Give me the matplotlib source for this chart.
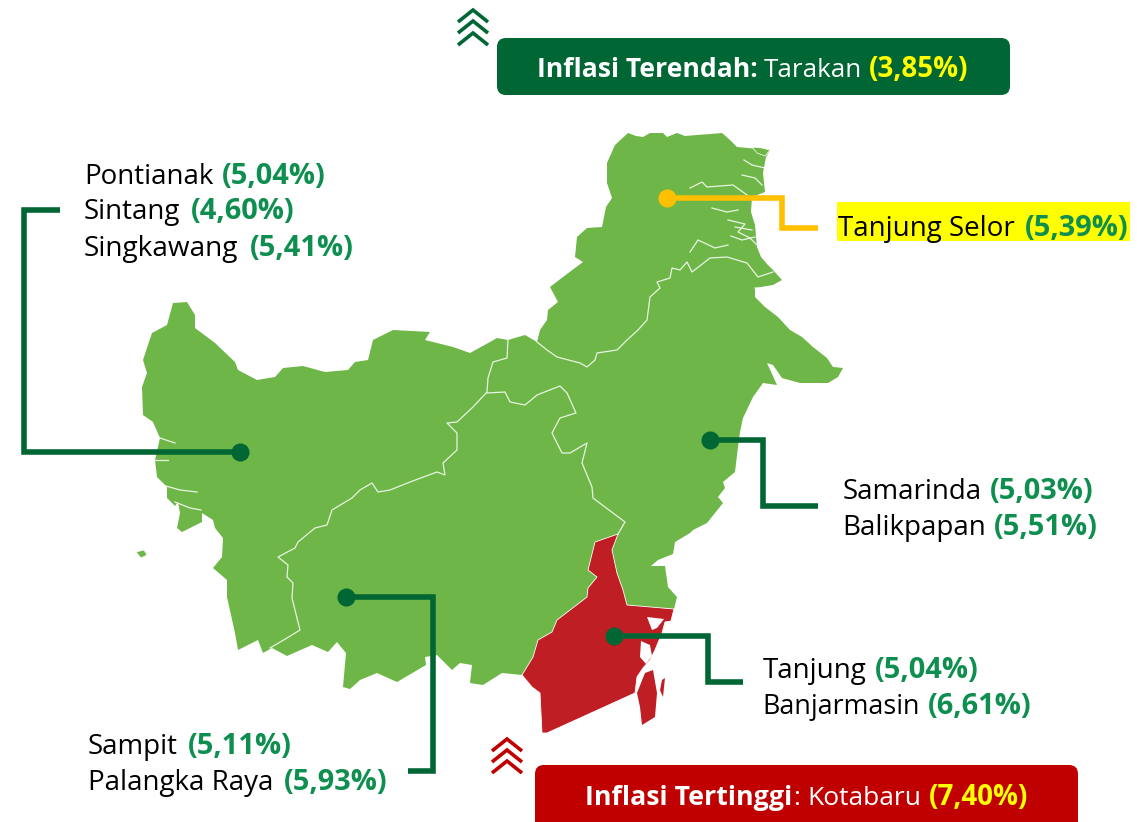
import matplotlib
matplotlib.use("Agg")
import matplotlib.pyplot as plt
from matplotlib.patches import Polygon, FancyBboxPatch, Rectangle

plt.rcParams['font.family'] = ['Open Sans', 'DejaVu Sans']

HIJAU = "#6DB647"
HIJAU_TUA = "#006633"
MERAH = "#BE1E24"
MERAH_KOTAK = "#C00000"
TEKS_HIJAU = "#0E8F4F"
KUNING = "#FFC000"

# garis pantai pulau (koordinat piksel gambar)
pantai = [(628,133),(636,136),(643,137),(650,133),(663,133),(667,137),(677,133),(685,136),(697,135),
          (710,134),(722,133),(730,140),(737,147),(748,148),(770,150),(766,157),(763,173),(765,192),
          (752,197),(751,212),(755,225),(757,247),(761,257),(767,264),(773,270),(782,280),(773,285),
          (755,288),(755,297),(765,307),(778,317),(790,330),(802,337),(813,347),(827,358),(833,367),
          (843,368),(838,377),(828,383),(800,383),(782,378),(773,365),(767,363),(777,385),(763,383),
          (753,397),(743,418),(740,432),(738,447),(735,472),(723,482),(725,488),(718,497),(723,503),
          (707,523),(693,530),(690,533),(675,542),(673,554),(658,560),(651,566),(665,566),
          (668,587),(677,597),(674,609),(622,606),(590,600),(522,675),(502,673),(483,685),
          (470,683),(472,665),(460,663),(452,670),(437,655),(425,657),(426,665),(397,682),
          (377,673),(360,680),(350,689),(343,687),(346,653),(337,642),(328,652),(312,645),
          (287,656),(272,648),(263,653),(258,640),(238,650),(235,633),(227,597),(227,580),
          (213,568),(222,557),(223,538),(215,528),(213,520),(202,513),(202,522),(182,532),
          (177,528),(180,513),(178,502),(175,506),(167,498),(167,487),(157,477),(155,460),
          (160,438),(153,422),(143,415),(142,387),(147,373),(143,360),(152,333),(167,325),
          (173,303),(187,302),(195,315),(195,328),(215,343),(235,362),(238,370),(257,380),
          (275,377),(283,368),(303,366),(325,372),(348,370),(355,362),(368,360),(373,340),
          (393,330),(430,332),(425,340),(453,347),(470,353),(490,342),(497,338),(508,340),
          (525,335),(537,342),(540,330),(547,320),(548,310),(558,302),(550,287),(563,277),
          (583,262),(575,257),(577,237),(587,228),(602,227),(606,207),(612,198),(607,183),
          (607,163),(615,145)]
pulau_kecil = [[(136,552),(144,550),(147,555),(141,558)],
               [(752,147),(762,148),(770,150),(765,156),(757,153)]]

# Kalimantan Selatan
kalsel = [(618,534),(595,542),(588,570),(597,577),(588,588),(587,597),(557,620),(552,632),
          (538,640),(533,657),(522,675),(532,687),(540,693),(542,733),(547,733),(635,693),
          (637,677),(643,668),(650,660),(655,650),(662,633),(665,622),(671,621),(674,609),
          (627,605),(623,590),(617,573),(612,550)]
kalsel_pulau = [[(653,670),(657,693),(655,717),(642,725),(640,707),(637,693),(645,673)],
                [(665,678),(663,697),(660,690),(662,680)]]
kalsel_celah = [[(647,617),(664,619),(657,628),(652,630)],
                [(641,641),(650,645),(652,656),(646,664),(640,657)]]

# batas provinsi dan sungai (garis putih)
batas = [[(537,342),(547,350),(557,357),(580,363),(587,367),(595,360),(597,353),(617,350),
          (627,340),(638,330),(647,320),(650,297),(660,288),(657,282),(670,278),(672,268),
          (680,270),(687,262),(692,272),(710,258),(727,257),(747,263),(758,277),(773,272)],
         [(508,340),(507,358),(493,362),(488,378),(487,392),(473,407),(457,422),(447,423),
          (457,433),(457,450),(443,463),(445,475),(437,472),(410,482),(390,490),(378,492),
          (372,483),(360,490),(352,498),(332,510),(327,525),(315,528),(298,542),(295,548),
          (278,557),(288,565),(287,577),(293,583),(292,598),(300,630),(287,638),(270,648)],
         [(487,393),(505,392),(510,402),(525,405),(537,395),(560,386),(567,393),(576,413),
          (560,418),(552,433),(562,453),(570,453),(587,443),(582,463),(592,487),(593,498),
          (625,522),(618,534)],
         [(690,252),(698,240),(715,248),(728,245)],
         [(690,188),(702,182),(707,187),(733,185),(747,195)],
         [(712,208),(727,212),(738,210)],
         [(728,220),(745,224),(738,232),(750,238),(757,245)],
         [(735,227),(752,230)],
         [(731,236),(742,240),(755,237)],
         [(744,160),(752,165),(765,168)],
         [(742,175),(755,178),(762,185)],
         [(160,438),(175,443)],
         [(155,460),(168,460)],
         [(166,486),(180,490),(197,492)],
         [(175,502),(190,508),(201,510)],
         [(755,288),(770,289)],
         [(757,295),(768,293)]]

# garis penunjuk
penunjuk_barat = [(240,452),(24,452),(24,210),(60,210)]
penunjuk_selor = [(667,198),(782,198),(782,228),(818,228)]
penunjuk_timur = [(710,440),(763,440),(763,506),(818,506)]
penunjuk_selatan = [(614,636),(708,636),(708,682),(743,682)]
penunjuk_tengah = [(346,597),(433,597),(433,771),(408,771)]

# label kota: nama, x nama, baseline, nilai, x nilai
kota = ["Pontianak", "Sintang", "Singkawang", "Tanjung Selor", "Samarinda", "Balikpapan",
        "Tanjung", "Banjarmasin", "Sampit", "Palangka Raya"]
kota_x = [84, 84, 84, 838, 843, 842, 763, 762, 88, 88]
kota_y = [184, 219, 256, 236, 499, 535, 678, 714, 754, 790]
kota_font = [20, 20, 20.2, 20, 20, 20, 20, 19.4, 20, 20]
inflasi = ["(5,04%)", "(4,60%)", "(5,41%)", "(5,39%)", "(5,03%)", "(5,51%)",
           "(5,04%)", "(6,61%)", "(5,11%)", "(5,93%)"]
inflasi_x = [222, 191, 250, 1025, 990, 994, 875, 928, 188, 284]

fig = plt.figure(figsize=(11.37, 8.22), dpi=100)
ax = fig.add_axes([0, 0, 1, 1])
ax.set_xlim(0, 1137)
ax.set_ylim(822, 0)
ax.axis("off")

# peta
ax.add_patch(Polygon(pantai, closed=True, facecolor=HIJAU, edgecolor="none", zorder=1))
for p in pulau_kecil:
    ax.add_patch(Polygon(p, closed=True, facecolor=HIJAU, edgecolor="white", lw=0.5, zorder=1))
for b in batas:
    ax.plot([t[0] for t in b], [t[1] for t in b], color="white", lw=0.9, alpha=0.85, zorder=2)
ax.add_patch(Polygon(kalsel, closed=True, facecolor=MERAH, edgecolor="white", lw=0.6, zorder=3))
for p in kalsel_pulau:
    ax.add_patch(Polygon(p, closed=True, facecolor=MERAH, edgecolor="none", zorder=3))
for p in kalsel_celah:
    ax.add_patch(Polygon(p, closed=True, facecolor="white", edgecolor="none", zorder=3))

# penunjuk
for garis, warna in [(penunjuk_barat, HIJAU_TUA), (penunjuk_selor, KUNING), (penunjuk_timur, HIJAU_TUA),
                     (penunjuk_selatan, HIJAU_TUA), (penunjuk_tengah, HIJAU_TUA)]:
    xs = [t[0] for t in garis]
    ys = [t[1] for t in garis]
    ax.plot(xs, ys, color=warna, lw=4, solid_joinstyle="miter", solid_capstyle="butt", zorder=4)
    ax.plot(xs[0], ys[0], "o", color=warna, ms=13, mew=0, zorder=5)

# sorotan kuning Tanjung Selor
ax.add_patch(Rectangle((837, 202), 293, 39, facecolor="#FFFF00", edgecolor="none", zorder=4))

for i in range(len(kota)):
    ax.text(kota_x[i], kota_y[i], kota[i], fontsize=kota_font[i], color="black", va="baseline", zorder=6)
    ax.text(inflasi_x[i], kota_y[i], inflasi[i], fontsize=20.9, color=TEKS_HIJAU,
            fontweight="bold", va="baseline", zorder=6)

# kotak teratas dan tertinggi
ax.add_patch(FancyBboxPatch((505, 46), 497, 41, boxstyle="round,pad=8,rounding_size=9",
                            facecolor=HIJAU_TUA, edgecolor="none", zorder=4))
ax.add_patch(FancyBboxPatch((543, 773), 527, 60, boxstyle="round,pad=8,rounding_size=9",
                            facecolor=MERAH_KOTAK, edgecolor="none", zorder=4))
ax.text(537, 77, "Inflasi Terendah:", fontsize=19.1, color="white", fontweight="bold", zorder=6)
ax.text(764, 77, "Tarakan", fontsize=18.7, color="white", zorder=6)
ax.text(869, 77, "(3,85%)", fontsize=20, color="#FFFF00", fontweight="bold", zorder=6)
ax.text(585, 805, "Inflasi Tertinggi", fontsize=19.3, color="white", fontweight="bold", zorder=6)
ax.text(793, 805, ":", fontsize=19, color="white", zorder=6)
ax.text(807, 805, "Kotabaru", fontsize=19, color="white", zorder=6)
ax.text(929, 805, "(7,40%)", fontsize=20, color="#FFFF00", fontweight="bold", zorder=6)

# panah ganda tiga
for x0, puncak, warna in [(473, [10, 21, 33], HIJAU_TUA), (507, [739, 750, 761], MERAH_KOTAK)]:
    for y0 in puncak:
        ax.plot([x0 - 15, x0, x0 + 15], [y0 + 12, y0, y0 + 12], color=warna, lw=2.6,
                solid_joinstyle="miter", solid_capstyle="butt", zorder=4)

fig.savefig("out.png", dpi=100)
